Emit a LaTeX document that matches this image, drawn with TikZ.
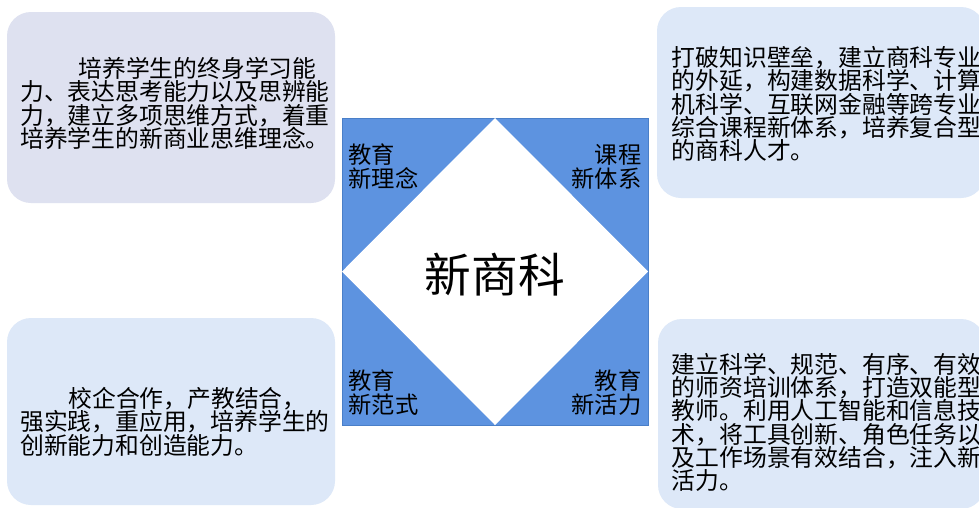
\documentclass[tikz,border=0pt]{standalone}
\usepackage{fontspec}
\setmainfont{Noto Sans CJK SC}
\definecolor{lav}{HTML}{DEE1F0}
\definecolor{lblue}{HTML}{DDE8F8}
\definecolor{sqfill}{HTML}{5D93E0}
\definecolor{sqline}{HTML}{4A7FC8}
\begin{document}
\begin{tikzpicture}[x=1pt,y=-1pt,
  card/.style={rounded corners=24pt},
  txt/.style={inner sep=0pt, anchor=base west, font=\fontsize{23.8pt}{23.3pt}\selectfont},
  lab/.style={inner sep=0pt, font=\fontsize{23.3pt}{24pt}\selectfont},
  big/.style={inner sep=0pt, anchor=base, font=\fontsize{46.7pt}{48pt}\selectfont}]
\clip (0,0) rectangle (979,507);
\fill[white] (0,0) rectangle (979,507);
% cards
\fill[lav,card] (7,12) rectangle (335,203);
\fill[lblue,card] (657,7) rectangle (985,198);
\fill[lblue,card] (7,318) rectangle (335,505);
\fill[lblue,card] (658,319) rectangle (985,509);
% central square and diamond
\draw[sqline,fill=sqfill,line width=0.8pt] (342,118) rectangle (648,425);
\fill[white] (495,118) -- (648,271.5) -- (495,425) -- (342,271.5) -- cycle;
\node[big] (core) at (495,292.7) {新商科};
% corner labels
\node[lab,anchor=base west] (l1a) at (348.3,163) {教育};
\node[lab,anchor=base west] (l1b) at (348.3,187) {新理念};
\node[lab,anchor=base east] (l2a) at (641.7,163) {课程};
\node[lab,anchor=base east] (l2b) at (641.7,187) {新体系};
\node[lab,anchor=base west] (l3a) at (348.3,389) {教育};
\node[lab,anchor=base west] (l3b) at (348.3,413) {新范式};
\node[lab,anchor=base east] (l4a) at (641.7,389) {教育};
\node[lab,anchor=base east] (l4b) at (641.7,413) {新活力};
% top-left text
\node[txt] (a1) at (78.3,77.3) {培养学生的终身学习能};
\node[txt] (a2) at (20,100.7) {力、表达思考能力以及思辨能};
\node[txt] (a3) at (20,124) {力，建立多项思维方式，着重};
\node[txt] (a4) at (20,147.3) {培养学生的新商业思维理念。};
% top-right text
\node[txt] (b1) at (671.7,66.5) {打破知识壁垒，建立商科专业};
\node[txt] (b2) at (671.7,89.8) {的外延，构建数据科学、计算};
\node[txt] (b3) at (671.7,113.1) {机科学、互联网金融等跨专业};
\node[txt] (b4) at (671.7,136.4) {综合课程新体系，培养复合型};
\node[txt] (b5) at (671.7,159.7) {的商科人才。};
% bottom-left text
\node[txt] (c1) at (68.3,407.3) {校企合作，产教结合，};
\node[txt] (c2) at (20,430.7) {强实践，重应用，培养学生的};
\node[txt] (c3) at (20,454) {创新能力和创造能力。};
% bottom-right text
\node[txt] (d1) at (671.7,373.2) {建立科学、规范、有序、有效};
\node[txt] (d2) at (671.7,396.5) {的师资培训体系，打造双能型};
\node[txt] (d3) at (671.7,419.8) {教师。利用人工智能和信息技};
\node[txt] (d4) at (671.7,443.2) {术，将工具创新、角色任务以};
\node[txt] (d5) at (671.7,466.5) {及工作场景有效结合，注入新};
\node[txt] (d6) at (671.7,489.8) {活力。};
\end{tikzpicture}
\end{document}
